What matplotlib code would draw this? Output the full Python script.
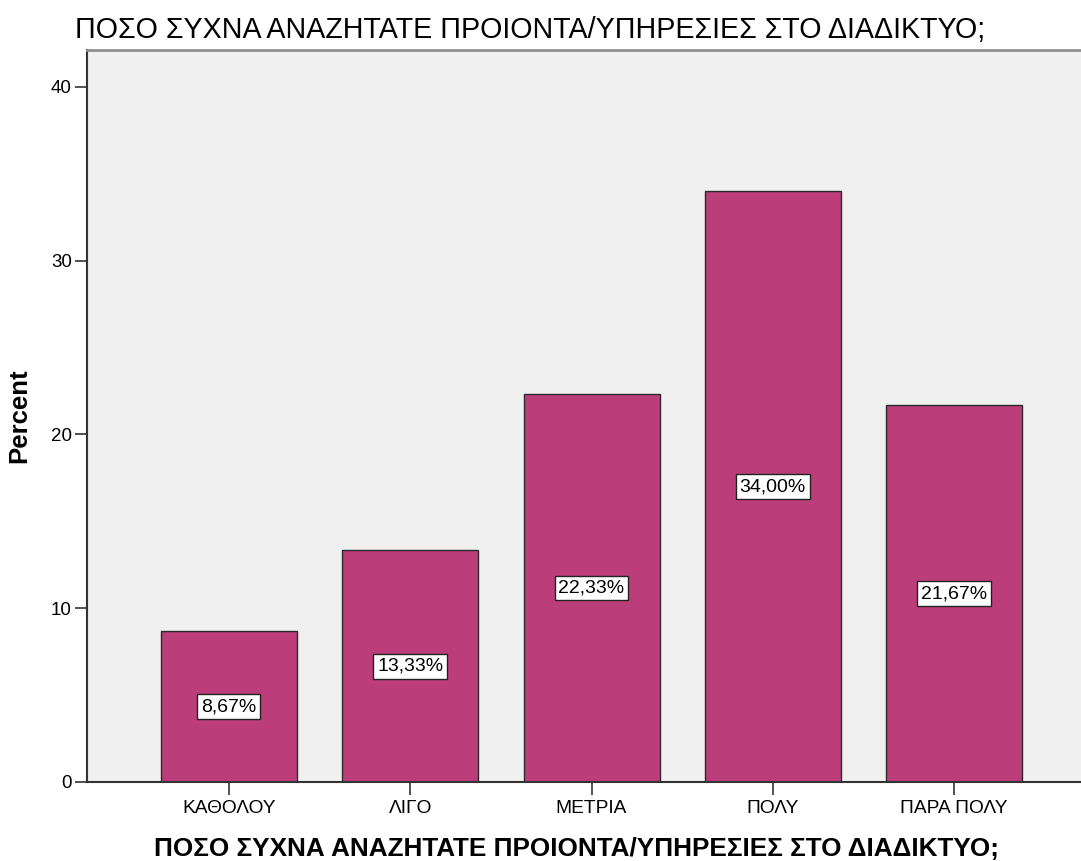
import matplotlib
matplotlib.use("Agg")
import matplotlib.pyplot as plt
import numpy as np

plt.rcParams['font.family'] = ['Liberation Sans', 'DejaVu Sans']

categories = ['ΚΑΘΟΛΟΥ', 'ΛΙΓΟ', 'ΜΕΤΡΙΑ', 'ΠΟΛΥ', 'ΠΑΡΑ ΠΟΛΥ']
percent = [8.67, 13.33, 22.33, 34.00, 21.67]
title = 'ΠΟΣΟ ΣΥΧΝΑ ΑΝΑΖΗΤΑΤΕ ΠΡΟΙΟΝΤΑ/ΥΠΗΡΕΣΙΕΣ ΣΤΟ ΔΙΑΔΙΚΤΥΟ;'

fig = plt.figure(figsize=(10.81, 8.61), dpi=100)
ax = fig.add_axes([0.0805, 0.0918, 0.9195, 0.8502])
ax.set_facecolor('#f0f0f0')

x = np.arange(len(categories))
ax.bar(x, percent, width=0.75, color='#bb3e7b', edgecolor='#2a2a2a', linewidth=1.0, zorder=2)

for xi, v in zip(x, percent):
    ax.text(xi, v / 2, f'{v:.2f}%'.replace('.', ','), ha='center', va='center',
            fontsize=14, color='black', zorder=3,
            bbox=dict(boxstyle='square,pad=0.2', facecolor='white', edgecolor='#222222', linewidth=1))

ax.set_xlim(-0.783, 4.70)
ax.set_ylim(0, 42.13)
ax.set_yticks([0, 10, 20, 30, 40])
ax.set_xticks(x)
ax.set_xticklabels(categories, fontsize=13.8)
ax.tick_params(axis='y', labelsize=13.5, length=9, width=1.2, color='#333333', pad=2)
ax.tick_params(axis='x', length=9, width=1.2, color='#333333', pad=4)

ax.spines['right'].set_visible(False)
ax.spines['top'].set_color('#909090')
ax.spines['top'].set_linewidth(2)
ax.spines['left'].set_color('#333333')
ax.spines['left'].set_linewidth(1.5)
ax.spines['bottom'].set_color('#333333')
ax.spines['bottom'].set_linewidth(1.5)

ax.set_ylabel('Percent', fontsize=18.5, fontweight='bold', labelpad=14)
ax.set_xlabel(title, fontsize=18.8, fontweight='bold')
ax.xaxis.set_label_coords((576 - 87) / (1081 - 87), -0.075)
fig.text(0.069, 0.965, title, fontsize=20.6, ha='left', va='center')

fig.savefig('out.png', dpi=100)
